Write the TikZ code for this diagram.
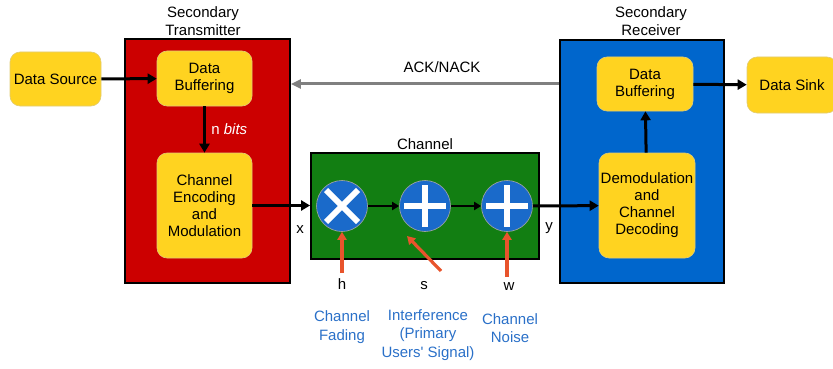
\documentclass[tikz,border=0pt]{standalone}
\usepackage{fontspec}
\setmainfont{Liberation Sans}
\usetikzlibrary{arrows.meta}
\definecolor{txred}{HTML}{CC0000}
\definecolor{rxblue}{HTML}{0066CC}
\definecolor{chgreen}{HTML}{127E12}
\definecolor{boxyellow}{HTML}{FFD320}
\definecolor{opblue}{HTML}{1A6ACA}
\definecolor{srcorange}{HTML}{E8542C}
\definecolor{lblblue}{HTML}{2A70C8}
\definecolor{ackgray}{HTML}{808080}
\tikzset{
  txt/.style={font=\fontsize{15}{17}\selectfont, align=center},
  unit/.style={draw=black, line width=1.8pt},
  block/.style={txt, draw=boxyellow!80!black!60, fill=boxyellow, rounded corners=10pt, line width=0.6pt, inner sep=0pt},
  opnode/.style={circle, fill=opblue, draw=gray!70, line width=0.6pt, minimum size=51pt, inner sep=0pt},
  sym/.style={white, line width=6pt},
  flow/.style={black, line width=3pt, -{Triangle[length=9pt,width=10pt]}},
  thinflow/.style={black, line width=2.6pt, -{Triangle[length=7pt,width=8pt]}},
  ack/.style={ackgray, line width=3pt, -{Triangle[length=10pt,width=9pt]}},
  ext/.style={srcorange, line width=3.2pt, -{Triangle[length=8pt,width=9pt]}},
  note/.style={font=\fontsize{15}{18.5}\selectfont, align=center, text=lblblue},
}
\begin{document}
\begin{tikzpicture}[x=1pt, y=-1pt]
\useasboundingbox (0,0) rectangle (833,369);

% enclosing units
\node[unit, fill=txred, minimum width=165pt, minimum height=244pt] (txbox) at (207.5,161) {};
\node[unit, fill=rxblue, minimum width=164pt, minimum height=243pt] (rxbox) at (642,161.5) {};
\node[unit, fill=chgreen, minimum width=228pt, minimum height=106pt] (chan) at (425,206) {};

\node[txt] (txlbl) at (203,21) {Secondary\\[1pt]Transmitter};
\node[txt] (rxlbl) at (651,21) {Secondary\\[1pt]Receiver};
\node[txt] (chlbl) at (425,144) {Channel};

% processing blocks
\node[block, minimum width=91pt, minimum height=54pt] (src) at (55.5,79) {Data Source};
\node[block, minimum width=95pt, minimum height=55pt] (txbuf) at (204.5,78.5) {Data\\Buffering};
\node[block, minimum width=95pt, minimum height=105pt] (txenc) at (204.5,205.5) {Channel\\Encoding\\and\\Modulation};
\node[block, minimum width=96pt, minimum height=54pt] (rxbuf) at (645,84) {Data\\Buffering};
\node[block, minimum width=96pt, minimum height=105pt] (rxdem) at (647,205.5) {Demodulation\\and\\Channel\\Decoding};
\node[block, minimum width=90pt, minimum height=56pt] (sink) at (792,85) {Data Sink};

% channel operations
\node[opnode] (c1) at (342,206) {};
\node[opnode] (c2) at (425,206) {};
\node[opnode] (c3) at (507,206) {};
\draw[sym] ([shift={(-16,-16)}]c1.center) -- ([shift={(16,16)}]c1.center);
\draw[sym] ([shift={(-16,16)}]c1.center) -- ([shift={(16,-16)}]c1.center);
\foreach \c in {c2,c3}{
  \draw[sym] ([shift={(-21,0)}]\c.center) -- ([shift={(21,0)}]\c.center);
  \draw[sym] ([shift={(0,-21)}]\c.center) -- ([shift={(0,21)}]\c.center);
}

% signal path
\draw[flow] (src) -- (txbuf);
\draw[flow] (txbuf) -- node[right, txt, text=white, xshift=2pt] {n \textit{bits}} (txenc);
\draw[flow] (txenc.east) -- (txenc.east -| chan.west);
\node[txt] (xlbl) at (300,230) {x};
\draw[thinflow] (c1) -- (c2);
\draw[thinflow] (c2) -- (c3);
\draw[flow] (c3) -- (rxdem);
\node[txt] (ylbl) at (549,228) {y};
\draw[flow] (rxdem) -- (rxbuf);
\draw[flow] (rxbuf) -- (sink);

% feedback
\draw[ack] (rxbox.west |- rxbuf) -- (txbox.east |- rxbuf);
\node[txt] (acklbl) at (442,67) {ACK/NACK};

% external inputs
\node[txt] (hlbl) at (342,284) {h};
\node[txt] (slbl) at (424,286) {s};
\node[txt] (wlbl) at (509,287) {w};
\coordinate (sfrom) at (441,271);
\coordinate (sto) at (407,236);
\draw[ext] (hlbl.north) ++(0,-2) -- (c1.south);
\draw[ext] (sfrom) -- (sto);
\draw[ext] (wlbl.north -| c3) ++(0,-3) -- (c3.south);

\node[note] (fade) at (342,327) {Channel\\Fading};
\node[note] (intf) at (428,335) {Interference\\(Primary\\Users\textquotesingle\ Signal)};
\node[note] (noise) at (510,328) {Channel\\Noise};
\end{tikzpicture}
\end{document}
